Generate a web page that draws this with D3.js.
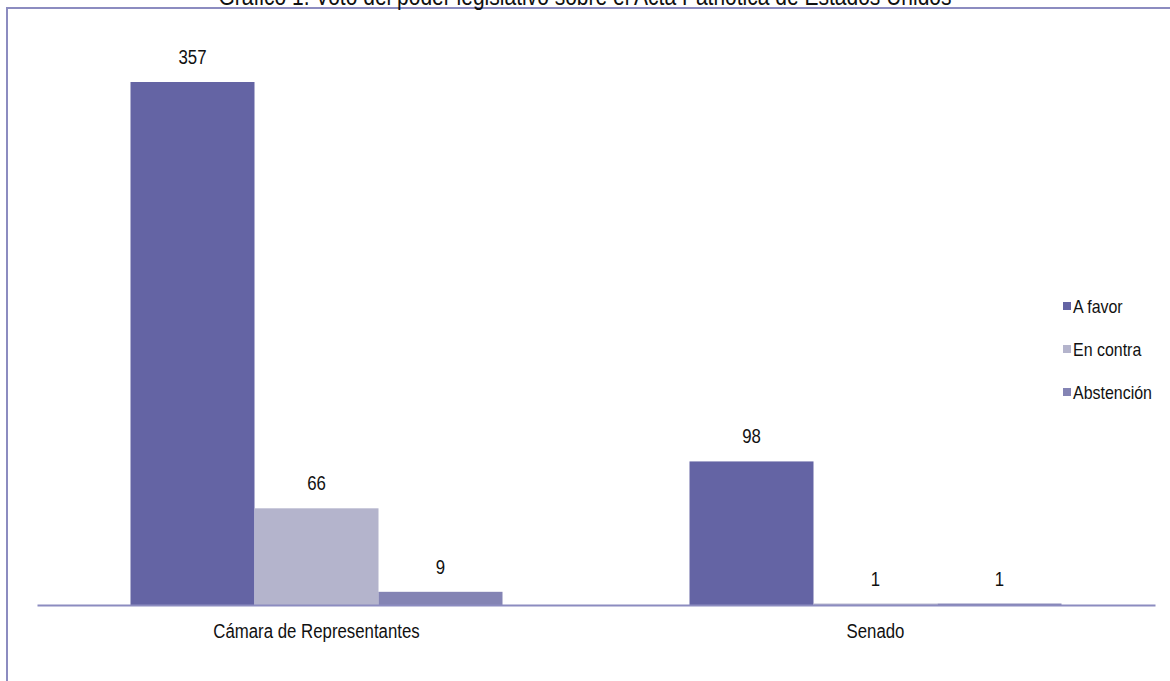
<!DOCTYPE html>
<html>
<head>
<meta charset="utf-8">
<script src="https://cdn.jsdelivr.net/npm/d3@7"></script>
<style>
  body { margin: 0; background: #fff; }
  text { font-family: "Liberation Sans", Arial, sans-serif; fill: #111; }
</style>
</head>
<body>
<svg id="chart" width="1170" height="681"></svg>
<script>
// Datos
const camaras = ["Cámara de Representantes", "Senado"];
const series = ["A favor", "En contra", "Abstención"];
const aFavor = [357, 98];
const enContra = [66, 1];
const abstencion = [9, 1];
const colores = ["#6464a4", "#b4b4cc", "#8484b4"];
const titulo = "Gráfico 1. Voto del poder legislativo sobre el Acta Patriótica de Estados Unidos";

const valores = [aFavor, enContra, abstencion];
const filas = [];
camaras.forEach((c, i) => {
  series.forEach((s, j) => filas.push({camara: c, serie: s, valor: valores[j][i]}));
});

// fuente estrecha tipo Arial Narrow: comprimir el texto horizontalmente
function estrecho(sel, f) {
  sel.each(function() {
    const len = this.getComputedTextLength();
    d3.select(this).attr("textLength", len * f).attr("lengthAdjust", "spacingAndGlyphs");
  });
}

const svg = d3.select("#chart");
const margin = {top: 82, left: 37, right: 15, bottom: 76};
const width = 1170 - margin.left - margin.right,
      height = 681 - margin.top - margin.bottom;

// Marco
svg.append("rect")
   .attr("x", 7).attr("y", 8)
   .attr("width", 1200).attr("height", 700)
   .attr("fill", "none")
   .attr("stroke", "#8c8cc0")
   .attr("stroke-width", 2);

// Título (cortado arriba, como en el original)
svg.append("text")
   .attr("x", 585).attr("y", 5)
   .attr("text-anchor", "middle")
   .style("font-size", "25px")
   .text(titulo)
   .call(estrecho, 0.84);

const g = svg.append("g").attr("transform", `translate(${margin.left},${margin.top})`);

const x0 = d3.scaleBand().domain(camaras).range([0, width]).paddingInner(0).paddingOuter(0);
const x1 = d3.scaleBand().domain(series).range([0, 372]);
const y = d3.scaleLinear().domain([0, 357]).range([height, 0]);
const color = d3.scaleOrdinal().domain(series).range(colores);

const xBar = d => x0(d.camara) + (x0.bandwidth() - 372) / 2 + x1(d.serie);

// Barras
g.selectAll("rect.bar")
  .data(filas)
  .enter().append("rect")
    .attr("class", "bar")
    .attr("x", xBar)
    .attr("y", d => y(d.valor))
    .attr("width", x1.bandwidth())
    .attr("height", d => height - y(d.valor))
    .attr("fill", d => color(d.serie));

// Etiquetas de valor
g.selectAll("text.value")
  .data(filas)
  .enter().append("text")
    .attr("class", "value")
    .attr("x", d => xBar(d) + x1.bandwidth() / 2)
    .attr("y", d => y(d.valor) - 18)
    .attr("text-anchor", "middle")
    .style("font-size", "20px")
    .text(d => d.valor)
    .call(estrecho, 0.84);

// Eje X
const ejeX = g.append("g")
  .attr("transform", `translate(0,${height})`)
  .call(d3.axisBottom(x0).tickSize(0).tickPadding(19));
ejeX.select(".domain").attr("stroke", "#8c8cc0").attr("stroke-width", 2);
ejeX.selectAll("text")
  .style("font-size", "20px")
  .style("font-family", "\"Liberation Sans\", Arial, sans-serif")
  .attr("fill", "#111")
  .call(estrecho, 0.84);

// Leyenda
const ley = svg.append("g").attr("transform", "translate(1063,306)");
series.forEach((s, i) => {
  const it = ley.append("g").attr("transform", `translate(0,${i * 43})`);
  it.append("rect").attr("x", 0).attr("y", -4).attr("width", 8).attr("height", 8).attr("fill", color(s));
  it.append("text").attr("x", 10).attr("y", 0).attr("dy", "0.35em")
    .style("font-size", "19px").text(s)
    .call(estrecho, 0.84);
});
</script>
</body>
</html>
